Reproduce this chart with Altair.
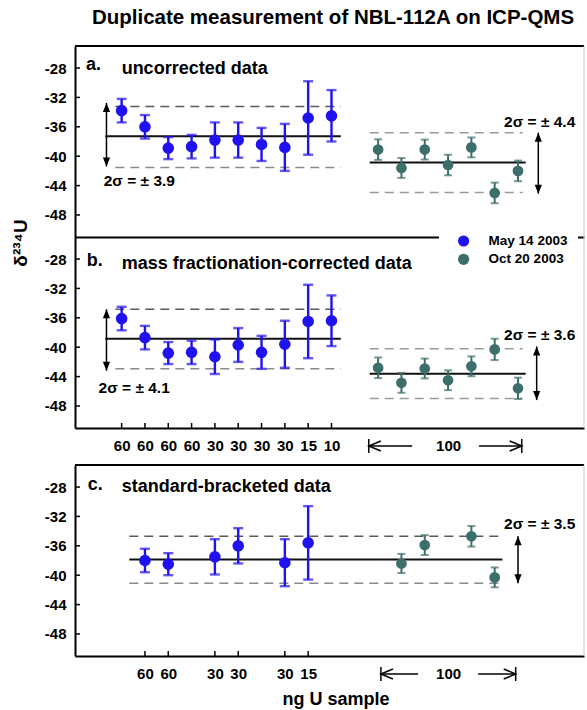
import altair as alt
import pandas as pd

FONT = "Liberation Sans"
BLUE = "#2011f0"
GREEN = "#3c6e6a"

series = ["May 14 2003", "Oct 20 2003"]
y_ticks = [-28, -32, -36, -40, -44, -48]

# ---- panel a: uncorrected data
a_may_pos = [1, 2, 3, 4, 5, 6, 7, 8, 9, 10]
a_may_val = [-33.8, -36.0, -38.9, -38.7, -37.8, -37.8, -38.4, -38.8, -34.8, -34.5]
a_may_err = [1.6, 1.6, 1.5, 1.6, 2.4, 2.4, 2.25, 3.2, 5.0, 3.5]
a_oct_pos = [12, 13, 14, 15, 16, 17, 18]
a_oct_val = [-39.1, -41.6, -39.1, -41.2, -38.8, -45.0, -42.0]
a_oct_err = [1.4, 1.35, 1.35, 1.4, 1.35, 1.4, 1.4]
a_may_stats = [-37.3, -33.25, -41.55]   # mean, upper, lower
a_oct_stats = [-40.85, -36.8, -44.95]
a_sigma = ["2σ = ± 3.9", "2σ = ± 4.4"]

# ---- panel b: mass fractionation-corrected data
b_may_pos = [1, 2, 3, 4, 5, 6, 7, 8, 9, 10]
b_may_val = [-36.1, -38.7, -40.8, -40.7, -41.3, -39.7, -40.7, -39.6, -36.5, -36.4]
b_may_err = [1.6, 1.6, 1.5, 1.6, 2.35, 2.3, 2.25, 3.2, 5.0, 3.45]
b_oct_pos = [12, 13, 14, 15, 16, 17, 18]
b_oct_val = [-42.8, -44.85, -42.9, -44.5, -42.6, -40.3, -45.6]
b_oct_err = [1.4, 1.35, 1.35, 1.35, 1.35, 1.45, 1.45]
b_may_stats = [-38.85, -34.85, -42.95]
b_oct_stats = [-43.6, -40.2, -47.0]
b_sigma = ["2σ = ± 4.1", "2σ = ± 3.6"]

# ---- panel c: standard-bracketed data
c_may_pos = [2, 3, 5, 6, 8, 9]
c_may_val = [-38.0, -38.5, -37.5, -36.0, -38.3, -35.6]
c_may_err = [1.6, 1.5, 2.4, 2.4, 3.2, 5.0]
c_oct_pos = [13, 14, 16, 17]
c_oct_val = [-38.4, -35.9, -34.7, -40.3]
c_oct_err = [1.3, 1.35, 1.4, 1.35]
c_stats = [-37.85, -34.7, -41.1]
c_sigma = ["2σ = ± 3.5"]

# ---- x tick labels (ng U sample)
ab_tick_pos = [1, 2, 3, 4, 5, 6, 7, 8, 9, 10]
ab_tick_lab = ["60", "60", "60", "60", "30", "30", "30", "30", "15", "10"]
c_tick_pos = [2, 3, 5, 6, 8, 9]
c_tick_lab = ["60", "60", "30", "30", "30", "15"]
group_pos = 15
group_lab = "100"

titles = ["a.", "uncorrected data", "b.", "mass fractionation-corrected data",
          "c.", "standard-bracketed data"]

# ------------------------------------------------------------------
W, H = 509, 191
XS = alt.Scale(domain=[-1, 20.83], nice=False, zero=False)
YS = alt.Scale(domain=[-51, -25], nice=False, zero=False)
CS = alt.Scale(domain=series, range=[BLUE, GREEN])

y_axis = alt.Axis(values=y_ticks, title=None, grid=False, ticks=False, tickSize=0,
                  labelPadding=9, labelFontSize=15, labelFontWeight="bold",
                  labelColor="black", labelExpr="'-' + abs(datum.value)",
                  domainColor="black", domainWidth=2)


def label_expr(pos, labs):
    arr = [""] * 22
    for p, l in zip(pos, labs):
        arr[p] = l
    arr[group_pos] = group_lab
    return "[" + ",".join("'%s'" % s for s in arr) + "][datum.value]"


def x_axis(pos=None, labs=None):
    if pos is None:
        return alt.Axis(title=None, grid=False, labels=False, ticks=False, tickSize=0,
                        domainColor="black", domainWidth=2)
    return alt.Axis(title=None, grid=False, ticks=False, tickSize=0,
                    values=list(pos) + [group_pos], labelExpr=label_expr(pos, labs),
                    labelPadding=10, labelFontSize=15, labelFontWeight="bold",
                    labelColor="black", labelFlush=False, labelOverlap=False,
                    domainColor="black", domainWidth=2)


def X(f, ax):
    return alt.X(f, type="quantitative", scale=XS, axis=ax)


def Y(f):
    return alt.Y(f, type="quantitative", scale=YS, axis=y_axis)


def series_layers(pos, val, err, name, color, ax, cap, width, size):
    df = pd.DataFrame({"x": pos, "y": val, "e": err, "s": name})
    base = alt.Chart(df).transform_calculate(lo="datum.y - datum.e", hi="datum.y + datum.e")
    bar = base.mark_rule(color=color, strokeWidth=width).encode(
        x=X("x", ax), y=Y("lo"), y2=alt.Y2("hi"))
    c1 = base.mark_tick(color=color, orient="horizontal", size=cap, thickness=width).encode(
        x=X("x", ax), y=Y("lo"))
    c2 = base.mark_tick(color=color, orient="horizontal", size=cap, thickness=width).encode(
        x=X("x", ax), y=Y("hi"))
    dot = base.mark_circle(size=size, opacity=1).encode(
        x=X("x", ax), y=Y("y"), color=alt.Color("s:N", scale=CS, legend=None))
    return [bar, c1, c2, dot]


def hline(x0, x1, y, ax, color, width, dash=None):
    df = pd.DataFrame({"x0": [x0], "x1": [x1], "y": [y]})
    kw = dict(color=color, strokeWidth=width)
    if dash:
        kw["strokeDash"] = dash
    return alt.Chart(df).mark_rule(**kw).encode(x=X("x0", ax), x2=alt.X2("x1"), y=Y("y"))


def stat_lines(stats, x0, x1, xd0, xd1, ax, hi_col, lo_col):
    m, hi, lo = stats
    return [hline(xd0, xd1, hi, ax, hi_col, 1.5, [9, 6]),
            hline(xd0, xd1, lo, ax, lo_col, 1.5, [9, 6]),
            hline(x0, x1, m, ax, "#111111", 2)]


UP = "M0,0L0.4,1L-0.4,1Z"
DOWN = "M0,0L0.4,-1L-0.4,-1Z"


def double_arrow(x, ytop, ybot, ax):
    df = pd.DataFrame({"x": [x], "a": [ytop], "b": [ybot]})
    base = alt.Chart(df)
    shaft = base.mark_rule(color="black", strokeWidth=1.5).encode(
        x=X("x", ax), y=Y("a"), y2=alt.Y2("b"))
    h1 = base.mark_point(shape=UP, size=324, filled=True, color="black", opacity=1).encode(
        x=X("x", ax), y=Y("a"))
    h2 = base.mark_point(shape=DOWN, size=324, filled=True, color="black", opacity=1).encode(
        x=X("x", ax), y=Y("b"))
    return [shaft, h1, h2]


def texts(xs, ys, labels, ax, size):
    df = pd.DataFrame({"x": xs, "y": ys, "t": labels})
    return alt.Chart(df).mark_text(align="left", baseline="middle", fontSize=size,
                                   fontWeight="bold", color="black").encode(
        x=X("x", ax), y=Y("y"), text="t:N")


LEFT_CHEV = "M1,-0.42L0,0L1,0.42"
RIGHT_CHEV = "M-1,-0.42L0,0L-1,0.42"


def group_arrows(xl, xl2, xr1, xr, ax, ymid=209, ytop=202, ybot=216):
    bars = alt.Chart(pd.DataFrame({"x": [xl, xr]})).mark_rule(
        color="black", strokeWidth=1.5).encode(
        x=X("x", ax), y=alt.value(ytop), y2=alt.value(ybot))
    lines = alt.Chart(pd.DataFrame({"x0": [xl, xr1], "x1": [xl2, xr]})).mark_rule(
        color="black", strokeWidth=1.5).encode(
        x=X("x0", ax), x2=alt.X2("x1"), y=alt.value(ymid))
    lc = alt.Chart(pd.DataFrame({"x": [xl]})).mark_point(
        shape=LEFT_CHEV, size=576, filled=False, color="black", strokeWidth=1.5,
        opacity=1).encode(x=X("x", ax), y=alt.value(ymid))
    rc = alt.Chart(pd.DataFrame({"x": [xr]})).mark_point(
        shape=RIGHT_CHEV, size=576, filled=False, color="black", strokeWidth=1.5,
        opacity=1).encode(x=X("x", ax), y=alt.value(ymid))
    return [bars, lines, lc, rc]


def y_inner_ticks():
    return alt.Chart(pd.DataFrame({"v": y_ticks})).mark_rule(
        color="black", strokeWidth=1.5).encode(y=Y("v"), x=alt.value(0), x2=alt.value(5))


def x_inner_ticks(pos, ax):
    return alt.Chart(pd.DataFrame({"v": pos})).mark_rule(
        color="black", strokeWidth=1.5).encode(x=X("v", ax), y=alt.value(H), y2=alt.value(H - 5))


def top_rule():
    return alt.Chart(pd.DataFrame({"v": [0]})).mark_rule(
        color="black", strokeWidth=2).encode(x=alt.value(0), x2=alt.value(W), y=alt.value(0))


def right_rule():
    return alt.Chart(pd.DataFrame({"v": [0]})).mark_rule(
        color="#c8c8c8", strokeWidth=1).encode(x=alt.value(W), y=alt.value(0), y2=alt.value(H))


# ---------------- panel a
axa = x_axis()
la = [top_rule(), right_rule(), y_inner_ticks()]
la += stat_lines(a_may_stats, 0.3, 10.4, 0.73, 10.4, axa, "#5a5a5a", "#8a8a8a")
la += stat_lines(a_oct_stats, 11.64, 18.33, 11.64, 18.2, axa, "#9a9a9a", "#9a9a9a")
la += double_arrow(0.35, -32.75, -41.4, axa)
la += double_arrow(18.87, -36.8, -45.1, axa)
la += series_layers(a_may_pos, a_may_val, a_may_err, series[0], BLUE, axa, 10, 2.4, 135)
la += series_layers(a_oct_pos, a_oct_val, a_oct_err, series[1], GREEN, axa, 8, 2, 115)
la += [texts([0.23, 17.4], [-43.4, -35.3], a_sigma, axa, 15.5),
       texts([-0.53, 1.0], [-27.6, -28.1], titles[0:2], axa, 18)]
title_txt = alt.Chart(pd.DataFrame({"t": ["Duplicate measurement of NBL-112A on ICP-QMS"]})).mark_text(
    align="center", baseline="middle", fontSize=20.5, fontWeight="bold", color="black").encode(
    x=alt.value(258), y=alt.value(-28), text="t:N")
ylab = alt.Chart(pd.DataFrame({"t": ["δ²³⁴U"]})).mark_text(
    align="center", baseline="middle", fontSize=19, fontWeight="bold", color="black",
    angle=270).encode(x=alt.value(-54), y=alt.value(197), text="t:N")
la += [title_txt, ylab]
panel_a = alt.layer(*la).properties(width=W, height=H)

# ---------------- panel b
axb = x_axis(ab_tick_pos, ab_tick_lab)
lb = [right_rule(), y_inner_ticks(), x_inner_ticks(ab_tick_pos, axb)]
lb += stat_lines(b_may_stats, 0.3, 10.4, 0.73, 10.4, axb, "#5a5a5a", "#8a8a8a")
lb += stat_lines(b_oct_stats, 11.64, 18.33, 11.64, 18.2, axb, "#9a9a9a", "#9a9a9a")
lb += double_arrow(0.35, -34.85, -43.2, axb)
lb += double_arrow(18.8, -39.9, -47.2, axb)
lb += series_layers(b_may_pos, b_may_val, b_may_err, series[0], BLUE, axb, 10, 2.4, 135)
lb += series_layers(b_oct_pos, b_oct_val, b_oct_err, series[1], GREEN, axb, 8, 2, 115)
lb += [texts([0.01, 17.4], [-45.6, -38.4], b_sigma, axb, 15.5),
       texts([-0.5, 1.0], [-28.2, -28.7], titles[2:4], axb, 18)]
lb += group_arrows(11.6, 13.46, 16.33, 18.16, axb)
# legend
lb.append(alt.Chart(pd.DataFrame({"v": [0]})).mark_rect(color="white").encode(
    x=alt.value(364), x2=alt.value(503), y=alt.value(-6), y2=alt.value(30)))
for i, name in enumerate(series):
    ldf = pd.DataFrame({"s": [name]})
    lb.append(alt.Chart(ldf).mark_circle(size=125, opacity=1).encode(
        x=alt.value(388.6), y=alt.value(4 + 18.3 * i),
        color=alt.Color("s:N", scale=CS, legend=None)))
    lb.append(alt.Chart(ldf).mark_text(align="left", baseline="middle", fontSize=13.5,
                                       fontWeight="bold", color="black").encode(
        x=alt.value(413.6), y=alt.value(4 + 18.3 * i), text="s:N"))
panel_b = alt.layer(*lb).properties(width=W, height=H)

# ---------------- gap between panel b and c
spacer = alt.Chart(pd.DataFrame({"v": [0]})).mark_point(opacity=0).encode(
    x=alt.value(0), y=alt.value(0)).properties(width=W, height=37)

# ---------------- panel c
axc = x_axis(c_tick_pos, c_tick_lab)
lc = [top_rule(), right_rule(), y_inner_ticks(), x_inner_ticks(c_tick_pos, axc)]
lc += stat_lines(c_stats, 1.33, 17.33, 1.33, 17.33, axc, "#5a5a5a", "#8a8a8a")
lc += double_arrow(18.0, -34.7, -41.1, axc)
lc += series_layers(c_may_pos, c_may_val, c_may_err, series[0], BLUE, axc, 10, 2.4, 135)
lc += series_layers(c_oct_pos, c_oct_val, c_oct_err, series[1], GREEN, axc, 8, 2, 115)
lc += [texts([17.4], [-33.0], c_sigma, axc, 15.5),
       texts([-0.45, 1.0], [-27.7, -28.0], titles[4:6], axc, 18)]
lc += group_arrows(12.12, 13.71, 16.29, 17.9, axc)
xlab = alt.Chart(pd.DataFrame({"t": ["ng U sample"]})).mark_text(
    align="center", baseline="top", fontSize=18, fontWeight="bold", color="black").encode(
    x=alt.value(261), y=alt.value(226), text="t:N")
lc.append(xlab)
panel_c = alt.layer(*lc).properties(width=W, height=H)

chart = alt.vconcat(
    panel_a, panel_b, spacer, panel_c, spacing=0, bounds="flush",
).properties(
    padding={"left": 12, "top": 8, "right": 0, "bottom": 0}
).configure(font=FONT).configure_view(stroke=None)

chart.save("out.html", embed_options={"renderer": "svg", "actions": False})
